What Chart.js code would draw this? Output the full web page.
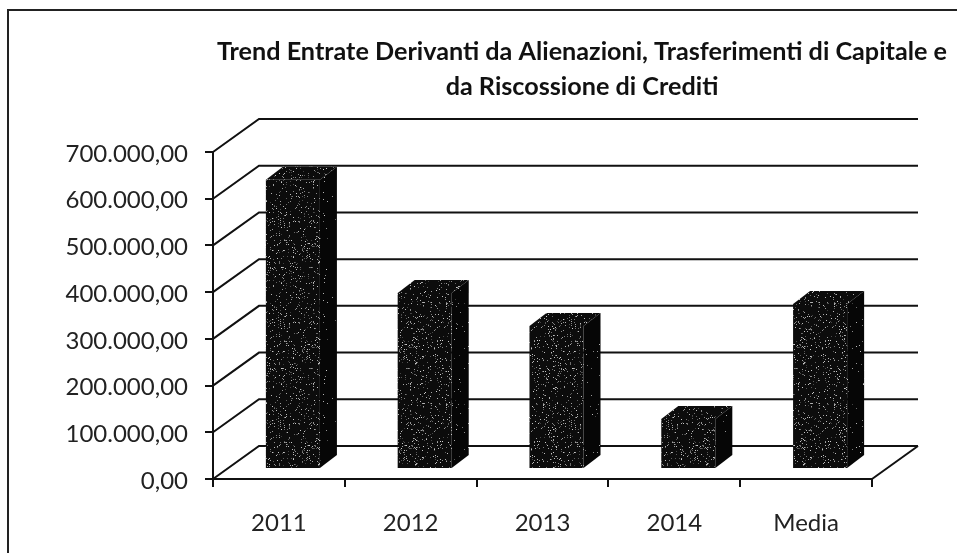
<!DOCTYPE html>
<html>
<head>
<meta charset="utf-8">
<script src="https://cdn.jsdelivr.net/npm/chart.js@4"></script>
<style>
  html, body { margin: 0; padding: 0; background: #fff; }
  #wrap { position: absolute; left: 0; top: 0; width: 957px; height: 553px; }
</style>
</head>
<body>
<div id="wrap"><canvas id="canvas" width="957" height="553"></canvas></div>
<script>
const categories = ['2011', '2012', '2013', '2014', 'Media'];
const entrate = [619000, 377000, 306000, 107000, 353000];
const titleLines = ['Trend Entrate Derivanti da Alienazioni, Trasferimenti di Capitale e', 'da Riscossione di Crediti'];

// scanned look: black with light specks, no Math.random so it stays the same
function speckle(base, amount) {
  const c = document.createElement('canvas');
  c.width = 97; c.height = 101;
  const g = c.getContext('2d');
  g.fillStyle = base;
  g.fillRect(0, 0, 97, 101);
  let s = 12345;
  for (let i = 0; i < amount; i++) {
    s = (s * 1103515245 + 12345) & 0x7fffffff;
    const x = s % 97;
    s = (s * 1103515245 + 12345) & 0x7fffffff;
    const y = s % 101;
    s = (s * 1103515245 + 12345) & 0x7fffffff;
    const v = 60 + (s >> 8) % 150;
    g.fillStyle = 'rgb(' + v + ',' + v + ',' + v + ')';
    g.fillRect(x, y, 1, 1);
  }
  return g.createPattern(c, 'repeat');
}
const ctx = document.getElementById('canvas').getContext('2d');
const frontFill = speckle('#0c0c0c', 800);
const sideFill = speckle('#060606', 120);

// depth of the wall behind the plot, and where bars sit inside that depth
const wallX = 46, wallY = -33;
const barX = 14, barY = -10;
const sideX = 17, sideY = -13;

const wall3d = {
  id: 'wall3d',
  beforeDatasetsDraw(chart) {
    const g = chart.ctx, y = chart.scales.y, a = chart.chartArea;
    g.save();
    g.strokeStyle = '#111';
    g.lineWidth = 2;
    y.ticks.forEach(function (t) {
      const py = y.getPixelForValue(t.value);
      g.beginPath();
      g.moveTo(a.left, py);
      g.lineTo(a.left + wallX, py + wallY);
      g.lineTo(a.right + wallX, py + wallY);
      g.stroke();
    });
    // floor edge on the right
    g.beginPath();
    g.moveTo(a.right, a.bottom);
    g.lineTo(a.right + wallX, a.bottom + wallY);
    g.stroke();
    g.restore();
  },
  beforeDatasetDraw(chart) {
    const g = chart.ctx;
    g.save();
    g.translate(barX, barY);
    chart.getDatasetMeta(0).data.forEach(function (bar) {
      const l = bar.x - bar.width / 2, r = bar.x + bar.width / 2;
      g.fillStyle = frontFill;
      g.beginPath();
      g.moveTo(l, bar.y);
      g.lineTo(l + sideX, bar.y + sideY);
      g.lineTo(r + sideX, bar.y + sideY);
      g.lineTo(r, bar.y);
      g.fill();
      g.fillStyle = sideFill;
      g.beginPath();
      g.moveTo(r, bar.y);
      g.lineTo(r + sideX, bar.y + sideY);
      g.lineTo(r + sideX, bar.base + sideY);
      g.lineTo(r, bar.base);
      g.fill();
    });
  },
  afterDatasetDraw(chart) {
    chart.ctx.restore();
  }
};

const frame = {
  id: 'frame',
  beforeDraw(chart) {
    const g = chart.ctx;
    g.save();
    g.strokeStyle = '#222';
    g.lineWidth = 2;
    g.beginPath();
    g.moveTo(8, 553);
    g.lineTo(8, 10);
    g.lineTo(957, 10);
    g.stroke();
    g.restore();
  }
};

// title is placed by hand so the plot area can stay where the picture has it
const titleText = {
  id: 'titleText',
  afterDraw(chart) {
    const g = chart.ctx;
    g.save();
    g.fillStyle = '#111';
    g.font = 'bold 25.2px Lato';
    g.textAlign = 'center';
    g.textBaseline = 'alphabetic';
    g.fillText(titleLines[0], 582, 60);
    g.fillText(titleLines[1], 582, 95);
    g.restore();
  }
};

new Chart(ctx, {
  type: 'bar',
  data: {
    labels: categories,
    datasets: [{
      data: entrate,
      backgroundColor: frontFill,
      borderWidth: 0,
      categoryPercentage: 1,
      barPercentage: 0.41,
      clip: false
    }]
  },
  options: {
    responsive: false,
    animation: false,
    layout: { padding: { left: 0, right: 85, top: 152, bottom: 0 } },
    plugins: {
      legend: { display: false },
      tooltip: { enabled: false },
      title: { display: false }
    },
    scales: {
      x: {
        afterFit(s) { s.height = 74; },
        grid: { drawOnChartArea: false, color: '#111', lineWidth: 2, tickLength: 8, offset: true },
        border: { color: '#111', width: 2 },
        ticks: { color: '#222', padding: 22, font: { family: 'Lato', size: 24 }, maxRotation: 0 }
      },
      y: {
        min: 0,
        max: 700000,
        afterFit(s) { s.width = 213; },
        grid: { drawOnChartArea: false, color: '#111', lineWidth: 2, tickLength: 8 },
        border: { color: '#111', width: 2 },
        ticks: {
          stepSize: 100000,
          color: '#222',
          padding: 17,
          labelOffset: 2,
          font: { family: 'Lato', size: 24 },
          callback: function (v) {
            return v.toLocaleString('it-IT', { minimumFractionDigits: 2, useGrouping: true });
          }
        }
      }
    }
  },
  plugins: [frame, wall3d, titleText]
});
</script>
</body>
</html>
